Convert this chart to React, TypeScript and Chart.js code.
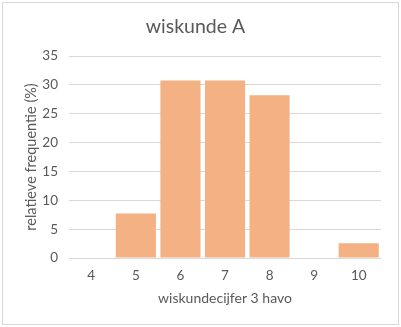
import React, { useEffect, useRef } from "react";
import { Chart, registerables } from "chart.js";

Chart.register(...registerables);

const titleText = "wiskunde A";
const categories = ["4", "5", "6", "7", "8", "9", "10"];
const frequencies = [0, 7.69, 30.77, 30.77, 28.21, 0, 2.56];
const xAxisTitle = "wiskundecijfer 3 havo";
const yAxisTitle = "relatieve frequentie (%)";

const FONT = "Lato, 'Open Sans', sans-serif";
const TEXT = "#595959";
const GRID = "#D9D9D9";

export default function App() {
  const ref = useRef<HTMLCanvasElement | null>(null);

  useEffect(() => {
    const canvas = ref.current;
    if (!canvas) return;
    const chart = new Chart(canvas, {
      type: "bar",
      data: {
        labels: categories,
        datasets: [
          {
            data: frequencies,
            backgroundColor: "#F4B183",
            borderWidth: 0,
            barPercentage: 0.9,
            categoryPercentage: 1,
          },
        ],
      },
      options: {
        responsive: false,
        animation: false,
        layout: { padding: { left: 10, right: 20, top: 8, bottom: 9 } },
        plugins: {
          legend: { display: false },
          tooltip: { enabled: false },
          title: {
            display: true,
            text: titleText,
            color: TEXT,
            font: { family: FONT, size: 19.5, weight: "normal", lineHeight: 1.2 },
            padding: { top: 7.5, bottom: 17.1 },
          },
        },
        scales: {
          x: {
            grid: { display: false, drawTicks: false },
            border: { display: false },
            ticks: { color: TEXT, font: { family: FONT, size: 13.5 }, padding: 10, maxRotation: 0 },
            title: {
              display: true,
              text: xAxisTitle,
              color: TEXT,
              font: { family: FONT, size: 14, lineHeight: 1.2 },
              padding: { top: 4, bottom: 11.6 },
            },
            afterFit: (s: any) => {
              s.height = 60;
            },
          },
          y: {
            min: 0,
            max: 35,
            ticks: { stepSize: 5, color: TEXT, font: { family: FONT, size: 13.5 }, padding: 11 },
            grid: { color: GRID, lineWidth: 1, drawTicks: false },
            border: { display: false },
            title: {
              display: true,
              text: yAxisTitle,
              color: TEXT,
              font: { family: FONT, size: 14.5, lineHeight: 1.2 },
              padding: { top: 12.3, bottom: 4 },
            },
            afterFit: (s: any) => {
              s.width = 59;
            },
          },
        },
      },
    });
    return () => chart.destroy();
  }, []);

  return (
    <div style={{ position: "fixed", left: 0, top: 0, width: 401, height: 327, background: "#fff" }}>
      <div
        style={{
          position: "absolute",
          left: 2,
          top: 2,
          width: 395,
          height: 321,
          border: "1px solid #D9D9D9",
        }}
      />
      <canvas ref={ref} width={401} height={327} style={{ position: "absolute", left: 0, top: 0 }} />
    </div>
  );
}
